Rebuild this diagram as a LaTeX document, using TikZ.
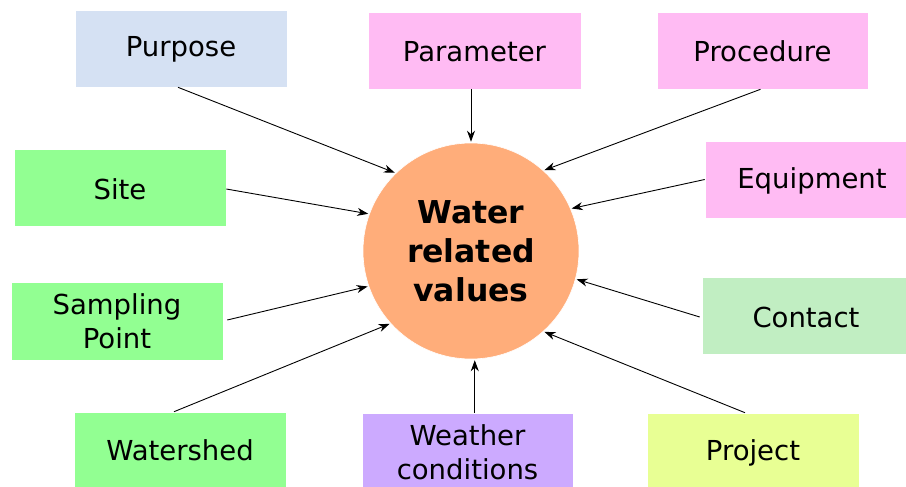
\documentclass[tikz,border=0pt]{standalone}
\usepackage{fontspec}
\setmainfont{DejaVu Sans}
\usetikzlibrary{arrows.meta,calc}

\definecolor{cBlue}{RGB}{213,225,243}
\definecolor{cPink}{RGB}{255,187,243}
\definecolor{cGreen}{RGB}{146,255,146}
\definecolor{cMint}{RGB}{193,238,194}
\definecolor{cLilac}{RGB}{204,170,255}
\definecolor{cLime}{RGB}{232,255,148}
\definecolor{cOrange}{RGB}{255,173,122}

\tikzset{
  topic/.style={draw=white, line width=0.6pt, minimum width=212pt, minimum height=77pt,
    inner sep=0pt, align=center, font=\fontsize{27.5}{34}\selectfont},
  % single-line labels: baseline sits #1 below the box centre
  drop/.style={text height=2*#1, text depth=0pt},
  hub/.style={circle, fill=cOrange, draw=white, line width=0.6pt, minimum size=216pt, inner sep=0pt,
    align=center, font=\fontsize{31.5}{39}\selectfont\bfseries},
  feed/.style={line width=0.9pt, -{Stealth[length=11pt,width=8pt,inset=3.5pt]}, shorten >=1pt}
}

\begin{document}
\begin{tikzpicture}[x=1pt,y=-1pt]
  \useasboundingbox (0,0) rectangle (906,487);
  \clip (0,0) rectangle (906,487);
  \fill[white] (0,0) rectangle (906,487);

  % central node
  \node[hub] (c) at (471,251) {Water\\related\\values};

  % surrounding topics
  \node[topic, drop=8.5pt, fill=cBlue]  (pur) at (181,48.5)  {Purpose};
  \node[topic, drop=11.5pt, fill=cPink, minimum width=213pt]  (par) at (474.5,50.5) {Parameter};
  \node[topic, drop=11.5pt, fill=cPink, minimum width=211pt]  (pro) at (762.5,50.5) {Procedure};
  \node[topic, drop=12pt, fill=cGreen] (sit) at (120,187.5) {Site};
  \node[topic, drop=8.5pt, fill=cPink, minimum width=214pt]  (equ) at (812,179.5) {Equipment};
  \node[topic, fill=cGreen, minimum height=78pt] (sam) at (117,321) {Sampling\\Point};
  \node[topic, drop=11.5pt, fill=cMint, minimum width=208pt]  (con) at (806,315.5) {Contact};
  \node[topic, drop=10pt, fill=cGreen, minimum height=76pt] (ws)  at (180,450) {Watershed};
  \node[topic, fill=cLilac, minimum width=211pt, minimum height=78pt] (wc) at (467.5,452) {Weather\\conditions};
  \node[topic, drop=9.5pt, fill=cLime, minimum height=76pt]  (prj) at (753,451) {Project};

  % connectors into the hub
  \draw[feed] ($(pur.south)+(-3,0)$) -- (c.134);
  \draw[feed] (c.north |- par.south) -- (c.north);
  \draw[feed] ($(pro.south)+(-2,0)$) -- (c.48);
  \draw[feed] ($(sit.east)+(0,1.5)$) -- (c.160);
  \draw[feed] (equ.west) -- (c.23);
  \draw[feed] ($(sam.east)+(4,-1)$) -- (c.199);
  \draw[feed] ($(ws.north)+(-6,0)$) -- (c.222);
  \draw[feed] (c.272 |- wc.north) -- (c.272);
  \draw[feed] ($(con.west)+(-2,1.5)$) -- (c.345);
  \draw[feed] ($(prj.north)+(-8,0)$) -- (c.312);
\end{tikzpicture}
\end{document}
